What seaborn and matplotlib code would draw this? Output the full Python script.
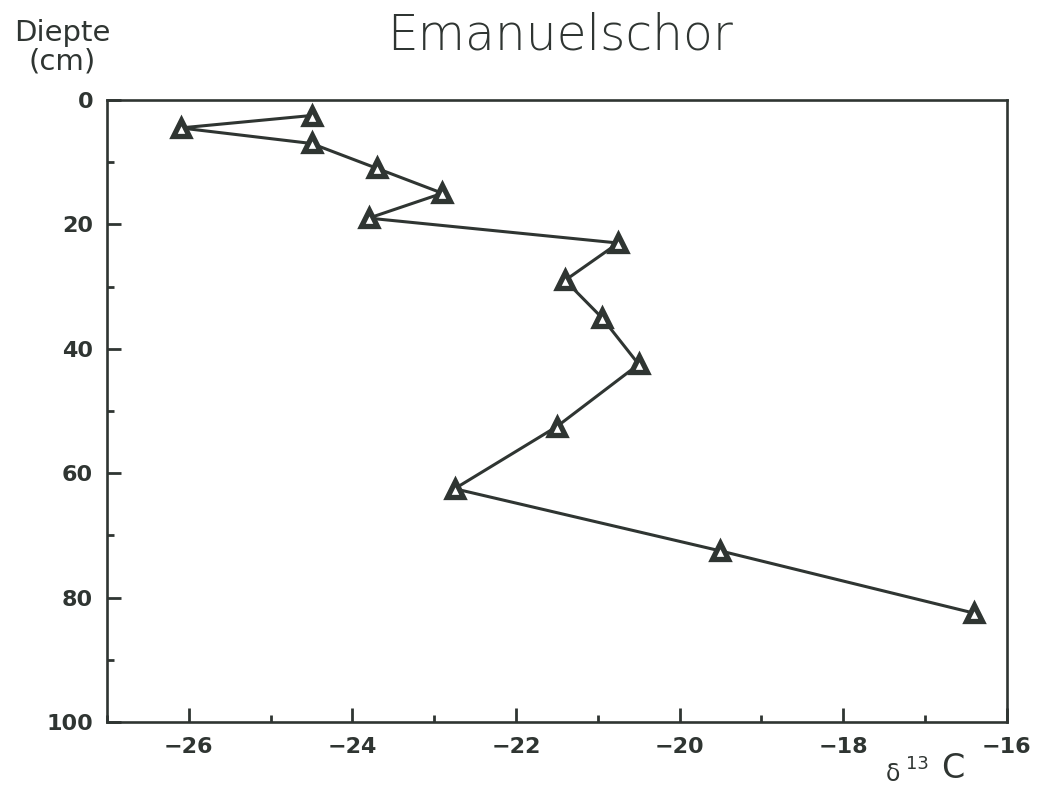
import matplotlib
matplotlib.use("Agg")
import matplotlib.pyplot as plt
from matplotlib.ticker import MultipleLocator
import seaborn as sns
import pandas as pd

# Depth profile of delta-13C (per mil) in the marsh core
depth_cm = [2.5, 4.5, 7, 11, 15, 19, 23, 29, 35, 42.5, 52.5, 62.5, 72.5, 82.5]
delta13c = [-24.5, -26.1, -24.5, -23.7, -22.9, -23.8, -20.75, -21.4, -20.95,
            -20.5, -21.5, -22.75, -19.5, -16.4]
x_ticks = [-26, -24, -22, -20, -18, -16]
x_tick_labels = ["\u221226", "\u221224", "\u221222", "\u221220", "\u221218", "\u221216"]
y_ticks = [0, 20, 40, 60, 80, 100]

df = pd.DataFrame({"delta13c": delta13c, "depth": depth_cm})

sns.set_style("ticks")
plt.rcParams["font.family"] = ["DejaVu Sans"]

ink = "#2f3532"
fig = plt.figure(figsize=(10.39, 7.87), dpi=100)
ax = fig.add_axes([0.103, 0.0826, 0.866, 0.7904])

sns.lineplot(data=df, x="delta13c", y="depth", sort=False, estimator=None,
             color=ink, linewidth=2.2, marker="^", markersize=12,
             markerfacecolor="white", markeredgecolor=ink, markeredgewidth=3.8,
             ax=ax)

ax.set_xlim(-27, -16)
ax.set_ylim(100, 0)
ax.set_xticks(x_ticks)
ax.set_xticklabels(x_tick_labels)
ax.set_yticks(y_ticks)
ax.xaxis.set_minor_locator(MultipleLocator(1))
ax.yaxis.set_minor_locator(MultipleLocator(10))
ax.tick_params(axis="both", which="major", direction="in", length=10,
               width=2, color=ink, labelsize=16, labelcolor=ink)
ax.tick_params(axis="x", which="major", pad=11)
ax.tick_params(axis="y", which="major", pad=10)
ax.tick_params(axis="both", which="minor", direction="in", length=5,
               width=2, color=ink)
for lab in ax.get_xticklabels() + ax.get_yticklabels():
    lab.set_fontweight("bold")
for side in ["top", "right", "bottom", "left"]:
    ax.spines[side].set_visible(True)
    ax.spines[side].set_linewidth(1.9)
    ax.spines[side].set_color(ink)
ax.set_xlabel("")
ax.set_ylabel("")

fig.text(0.539, 0.955, "Emanuelschor", ha="center", va="center",
         fontsize=35, fontweight="light", color=ink)
fig.text(0.060, 0.94, "Diepte\n(cm)", ha="center", va="center",
         fontsize=21, color=ink, linespacing=1.0)
# x-axis quantity: delta 13C
fig.text(0.859, 0.016, "\u03b4", ha="center", va="center",
         fontsize=17, color=ink)
fig.text(0.883, 0.029, "13", ha="center", va="center",
         fontsize=13, color=ink)
fig.text(0.917, 0.024, "C", ha="center", va="center",
         fontsize=24, color=ink)

fig.savefig("out.png", dpi=100, facecolor="white")
